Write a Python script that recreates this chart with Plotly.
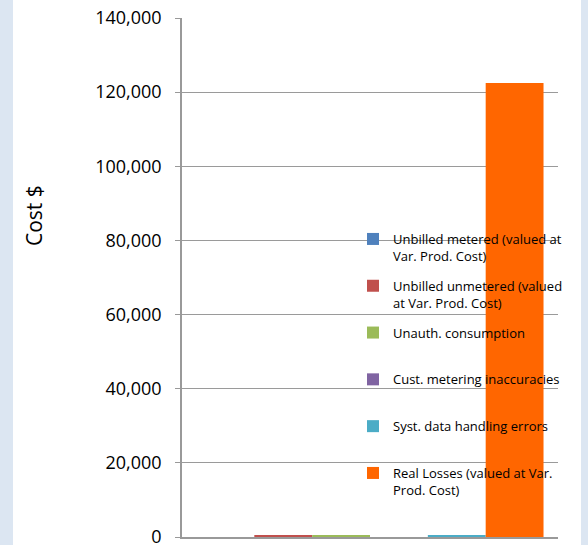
import plotly.graph_objects as go

categories = [""]
series_names = [
    "Unbilled metered (valued at<br>Var. Prod. Cost)",
    "Unbilled unmetered (valued<br>at Var. Prod. Cost)",
    "Unauth. consumption<br>\u00a0",
    "Cust. metering inaccuracies<br>\u00a0",
    "Syst. data handling errors<br>\u00a0",
    "Real Losses (valued at Var.<br>Prod. Cost)",
]
series_values = [0, 300, 300, 0, 300, 122500]
series_colors = ["#4F81BD", "#C0504D", "#9BBB59", "#8064A2", "#4BACC6", "#FF6600"]
tick_vals = [0, 20000, 40000, 60000, 80000, 100000, 120000, 140000]

W, H = 588, 545
ML, MR, MT, MB = 182, 30, 18, 8
PW, PH = W - ML - MR, H - MT - MB

def px_x(p):
    return (p - ML) / PW

def px_y(p):
    return (H - MB - p) / PH

fig = go.Figure()
for name, val, col in zip(series_names, series_values, series_colors):
    fig.add_trace(go.Bar(x=categories, y=[val], name=name, marker_color=col,
                         marker_line_width=0, legendgroup=name))

fig.update_layout(
    width=W, height=H,
    margin=dict(l=ML, r=MR, t=MT, b=MB),
    paper_bgcolor="white", plot_bgcolor="white",
    barmode="group", bargap=0.077, bargroupgap=0,
    font=dict(family="Open Sans", color="#000000"),
    showlegend=True,
    legend=dict(x=px_x(353), y=px_y(224), xanchor="left", yanchor="top",
                bgcolor="rgba(0,0,0,0)", font=dict(size=13, family="Open Sans"),
                valign="top", tracegroupgap=10, traceorder="grouped"),
    xaxis=dict(showticklabels=False, showgrid=False, showline=True,
               linecolor="#999999", linewidth=1.5, ticks="", fixedrange=True),
    yaxis=dict(range=[0, 140000], tickvals=tick_vals, tickformat=",d",
               showgrid=True, gridcolor="#9a9a9a", gridwidth=1.4,
               showline=True, linecolor="#999999", linewidth=1.5,
               ticks="outside", ticklen=5, tickcolor="#999999",
               ticklabelstandoff=10, ticklabeloverflow="allow",
               tickfont=dict(size=18, family="Open Sans"), zeroline=False,
               automargin=False),
    annotations=[dict(text="Cost $", x=px_x(34), y=px_y(216), xref="paper", yref="paper",
                      xanchor="center", yanchor="middle",
                      showarrow=False, textangle=-90, font=dict(size=21, family="Open Sans"))],
    shapes=[
        dict(type="rect", xref="paper", yref="paper", x0=px_x(-2), x1=px_x(13),
             y0=px_y(550), y1=px_y(-5), fillcolor="#DCE6F2", line_width=0, layer="below"),
        dict(type="rect", xref="paper", yref="paper", x0=px_x(581), x1=px_x(590),
             y0=px_y(550), y1=px_y(-5), fillcolor="#DCE6F2", line_width=0, layer="below"),
    ],
)
fig.write_html("out.html", config={"displayModeBar": False},
               post_script="document.body.style.margin='0';document.body.style.overflow='hidden';")
